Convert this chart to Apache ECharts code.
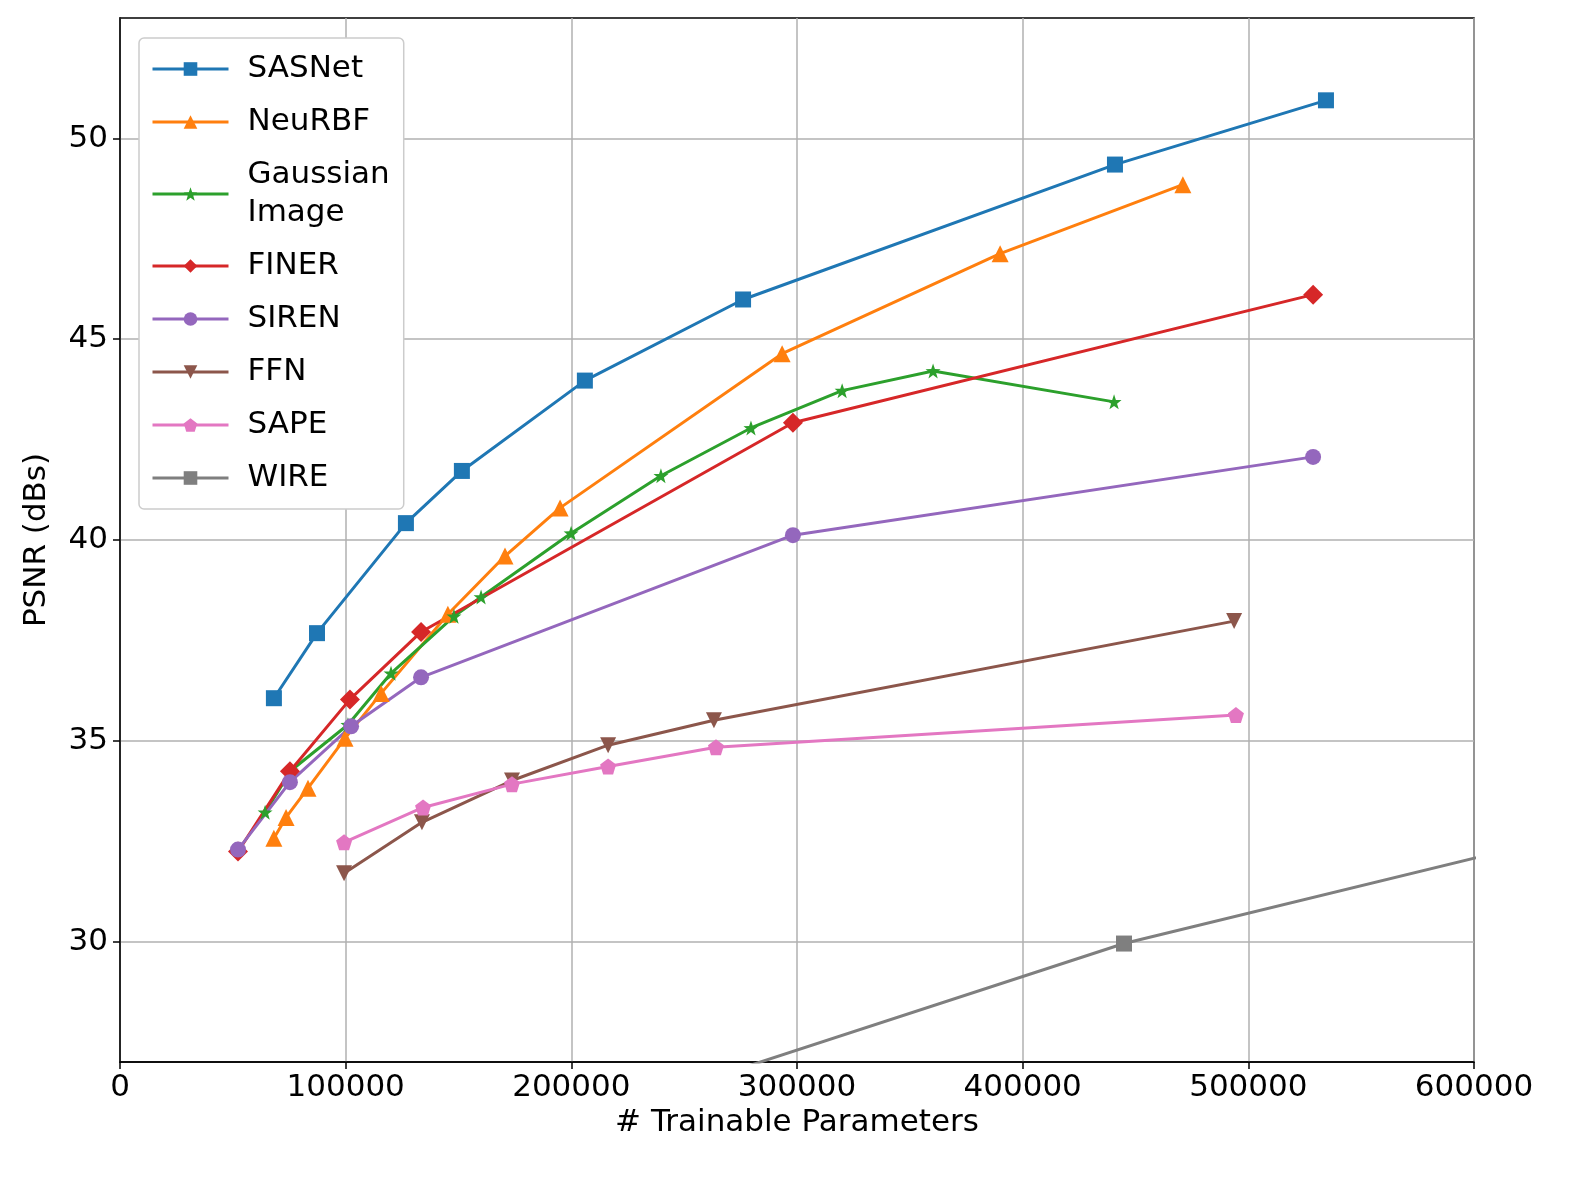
<!DOCTYPE html>
<html><head><meta charset="utf-8">
<script src="https://cdn.jsdelivr.net/npm/echarts@6/dist/echarts.min.js"></script>
<style>html,body{margin:0;padding:0;background:#fff}#c{width:1580px;height:1180px}</style>
</head><body><div id="c"></div>
<script>
const sasnet=[[68200,36.06],[87300,37.68],[126700,40.42],[151500,41.72],[206000,43.97],[276100,45.99],[440900,49.35],[534400,50.95]];
const neurbf=[[68200,32.57],[73600,33.09],[83300,33.82],[99700,35.06],[115700,36.18],[145300,38.15],[170600,39.6],[195000,40.8],[293400,44.64],[390000,47.13],[471000,48.85]];
const gaussian=[[64300,33.22],[75800,34.26],[101000,35.4],[120100,36.68],[148000,38.1],[160000,38.58],[199900,40.17],[239700,41.6],[279600,42.79],[320000,43.72],[360300,44.21],[440500,43.44]];
const finer=[[52300,32.24],[75300,34.24],[101900,36.03],[133400,37.71],[298200,42.92],[528700,46.11]];
const siren=[[52300,32.29],[75300,33.97],[102400,35.36],[133400,36.58],[298200,40.12],[528700,42.07]];
const ffn=[[99300,31.7],[133800,32.97],[173700,34.01],[216300,34.89],[263200,35.51],[493700,37.98]];
const sape=[[99300,32.47],[134300,33.34],[173700,33.92],[216300,34.36],[264100,34.84],[494500,35.64]];
const wire=[[150000,24.55],[444900,29.95],[650000,32.76]];
const yTicks=[30,35,40,45,50];

const STAR='path://M0,-10L2.35,-3.2L9.5,-3.1L3.8,1.2L5.9,8.1L0,4L-5.9,8.1L-3.8,1.2L-9.5,-3.1L-2.35,-3.2Z';
const PENT='path://M0,-10L9.5,-3.1L5.9,8.1L-5.9,8.1L-9.5,-3.1Z';
const DTRI='path://M-10,-8L10,-8L0,10Z';
function s(name,data,color,symbol,size){return {name,type:'line',data,symbol,symbolSize:size,showSymbol:true,
 lineStyle:{width:3,color},itemStyle:{color},clip:true,z:2};}
const series=[
 s('SASNet',sasnet,'#1f77b4','rect',16),
 s('NeuRBF',neurbf,'#ff7f0e','triangle',17),
 s('Gaussian\nImage',gaussian,'#2ca02c',STAR,15),
 s('FINER',finer,'#d62728','diamond',20),
 s('SIREN',siren,'#9467bd','circle',16),
 s('FFN',ffn,'#8c564b',DTRI,16),
 s('SAPE',sape,'#e377c2',PENT,16),
 s('WIRE',wire,'#7f7f7f','rect',16)
];
const chart=echarts.init(document.getElementById('c'));
chart.setOption({
 animation:false,
 grid:{left:120,right:106,top:18,bottom:118,show:true,borderColor:'#000',borderWidth:1.5,backgroundColor:'transparent'},
 legend:{orient:'vertical',left:139,top:38,padding:[12,14,12,12],itemGap:15,itemWidth:76,itemHeight:17,
  lineStyle:{width:3},
  backgroundColor:'#fff',borderColor:'#ccc',borderWidth:1.5,borderRadius:5,
  textStyle:{fontSize:31,fontFamily:'DejaVu Sans',color:'#000',padding:[0,0,0,14],lineHeight:38}},
 xAxis:{type:'value',min:0,max:600000,interval:100000,name:'# Trainable Parameters',nameLocation:'middle',nameGap:24,
  nameTextStyle:{fontSize:31,fontFamily:'DejaVu Sans',color:'#000'},
  axisLine:{show:true,lineStyle:{color:'#000',width:1.5}},axisTick:{show:true,length:7,lineStyle:{color:'#000',width:1.5}},
  axisLabel:{fontSize:31,fontFamily:'DejaVu Sans',color:'#000',margin:10,formatter:v=>String(v)},
  splitLine:{show:true,lineStyle:{color:'#b0b0b0',width:1.5}}},
 yAxis:{type:'value',min:27,max:53,name:'PSNR (dBs)',nameLocation:'middle',nameGap:68,
  nameTextStyle:{fontSize:31,fontFamily:'DejaVu Sans',color:'#000'},
  axisLine:{show:true,lineStyle:{color:'#000',width:1.5}},
  axisTick:{show:true,length:7,customValues:yTicks,lineStyle:{color:'#000',width:1.5}},
  axisLabel:{fontSize:31,fontFamily:'DejaVu Sans',color:'#000',margin:12,customValues:yTicks},
  splitLine:{show:true,lineStyle:{color:'#b0b0b0',width:1.5}}},
 series
});
</script></body></html>
